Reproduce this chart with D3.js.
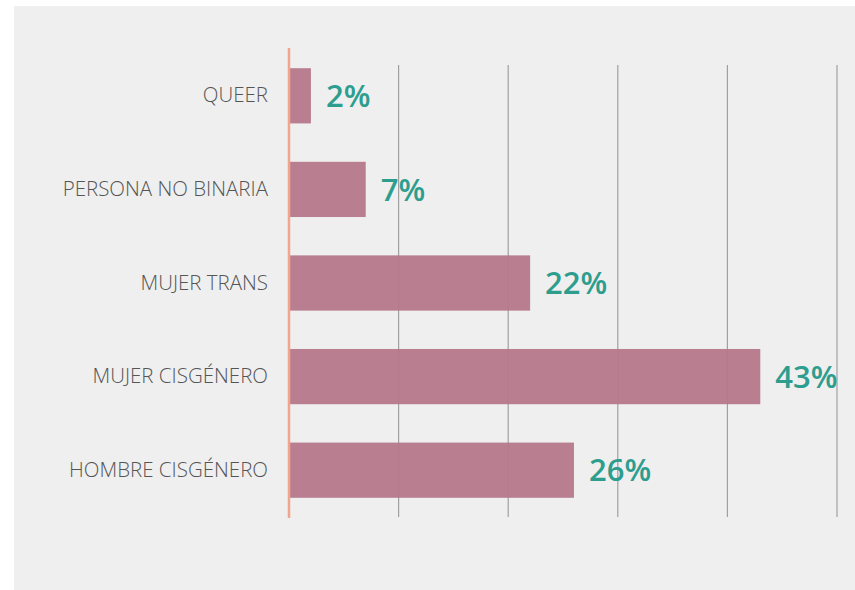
<!DOCTYPE html>
<html><head><meta charset="utf-8">
<script src="https://cdn.jsdelivr.net/npm/d3@7"></script>
<style>html,body{margin:0;padding:0;background:#fff;}svg{display:block;}</style>
</head><body>
<svg id="chart" width="855" height="590"></svg>
<script>
const categories = ["QUEER","PERSONA NO BINARIA","MUJER TRANS","MUJER CISGÉNERO","HOMBRE CISGÉNERO"];
const values = [2,7,22,43,26];
const valueLabels = ["2%","7%","22%","43%","26%"];
const gridTicks = [10,20,30,40,50];

const svg = d3.select("#chart");
svg.append("rect").attr("x",14).attr("y",6).attr("width",841).attr("height",584).attr("fill","#efefef");

const x = d3.scaleLinear().domain([0,50]).range([289,837]);
const y = d3.scaleBand().domain(categories).range([49,517]).paddingInner(0.41).paddingOuter(0.205);

// gridlines
svg.append("g").selectAll("line").data(gridTicks).join("line")
  .attr("x1",d=>x(d)).attr("x2",d=>x(d)).attr("y1",65).attr("y2",517)
  .attr("stroke","#a0a0a0").attr("stroke-width",1.2);

// bars
svg.append("g").selectAll("rect").data(values).join("rect")
  .attr("x",x(0)+1).attr("y",(d,i)=>y(categories[i]))
  .attr("width",d=>x(d)-x(0)-1).attr("height",y.bandwidth())
  .attr("fill","#b6788b").attr("fill-opacity",0.94);

// axis line
svg.append("line").attr("x1",x(0)).attr("x2",x(0)).attr("y1",48).attr("y2",518)
  .attr("stroke","#f2a58e").attr("stroke-width",2.5);

// category labels
const yAxis = d3.axisLeft(y).tickSize(0).tickPadding(21);
const ga = svg.append("g").attr("transform",`translate(${x(0)},0)`).call(yAxis);
ga.select(".domain").remove();
ga.selectAll("text").attr("font-family","'Open Sans', sans-serif").attr("font-size",20.5)
  .attr("fill","#555").attr("font-weight",300);

// value labels
svg.append("g").selectAll("text").data(values).join("text")
  .attr("x",d=>x(d)+15).attr("y",(d,i)=>y(categories[i])+y.bandwidth()/2)
  .attr("dy","0.36em")
  .attr("font-family","'Open Sans', sans-serif").attr("font-size",31).attr("font-weight",600)
  .attr("fill","#2d9d8e")
  .text((d,i)=>valueLabels[i]);
</script>
</body></html>
